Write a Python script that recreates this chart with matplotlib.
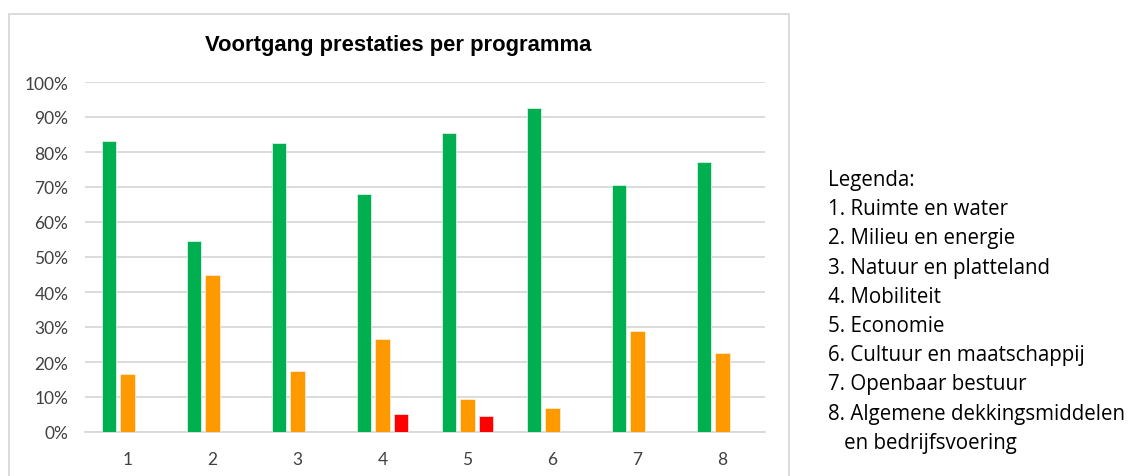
import numpy as np
import matplotlib
matplotlib.use("Agg")
import matplotlib.pyplot as plt
from matplotlib.patches import Rectangle
from matplotlib.ticker import PercentFormatter

# data (percent)
programmas = ["1", "2", "3", "4", "5", "6", "7", "8"]
groen = [83.1, 54.6, 82.6, 67.9, 85.5, 92.7, 70.7, 77.1]
oranje = [16.5, 45.0, 17.4, 26.6, 9.4, 7.0, 29.0, 22.5]
rood = [0, 0, 0, 5.1, 4.6, 0, 0, 0]
legenda = ["Legenda:", "1. Ruimte en water", "2. Milieu en energie",
           "3. Natuur en platteland", "4. Mobiliteit", "5. Economie",
           "6. Cultuur en maatschappij", "7. Openbaar bestuur",
           "8. Algemene dekkingsmiddelen", "   en bedrijfsvoering"]

W, H = 1132, 477
fig = plt.figure(figsize=(W / 100, H / 100), dpi=100)

# chart area border (excel style)
fig.patches.append(Rectangle((9 / W, -0.05), (789 - 9) / W, 1.05 - 15 / H,
                             transform=fig.transFigure, fill=False,
                             edgecolor="#D9D9D9", linewidth=1.3))

ax = fig.add_axes([85 / W, 44 / H, 680 / W, 350 / H])
x = np.arange(len(programmas))
bw = 0.17
off = 0.22
ax.bar(x - off, groen, bw, color="#00B050", edgecolor="#E8F8EE", linewidth=0.5, zorder=3)
ax.bar(x, oranje, bw, color="#FF9900", edgecolor="#FFF3E0", linewidth=0.5, zorder=3)
ax.bar(x + off, rood, bw, color="#FF0000", edgecolor="#FFE8E8", linewidth=0.5, zorder=3)

ax.set_xlim(-0.5, len(programmas) - 0.5)
ax.set_ylim(0, 100)
ax.set_yticks(np.arange(0, 101, 10))
ax.yaxis.set_major_formatter(PercentFormatter(decimals=0))
ax.set_xticks(x)
ax.set_xticklabels(programmas)
ax.grid(axis="y", color="#D9D9D9", linewidth=1.3, zorder=0)
for s in ["top", "right", "left"]:
    ax.spines[s].set_visible(False)
ax.spines["bottom"].set_color("#D9D9D9")
ax.spines["bottom"].set_linewidth(1.3)
ax.tick_params(axis="both", length=0, labelsize=12.5, labelcolor="#404040")
ax.tick_params(axis="y", pad=12)
ax.tick_params(axis="x", pad=14)
for lab in ax.get_xticklabels() + ax.get_yticklabels():
    lab.set_fontfamily("Lato")

fig.text(398 / W, 1 - 45 / H, "Voortgang prestaties per programma",
         ha="center", va="center", fontsize=15.8, fontweight="bold",
         family="Liberation Sans", color="#000000")

# legend text on the right
y0 = 186
for i, regel in enumerate(legenda):
    fig.text(828 / W, 1 - (y0 + i * 29.2) / H, regel, ha="left", va="baseline",
             fontsize=14.8, family="Open Sans", color="#000000")

fig.savefig("out.png", dpi=100)
